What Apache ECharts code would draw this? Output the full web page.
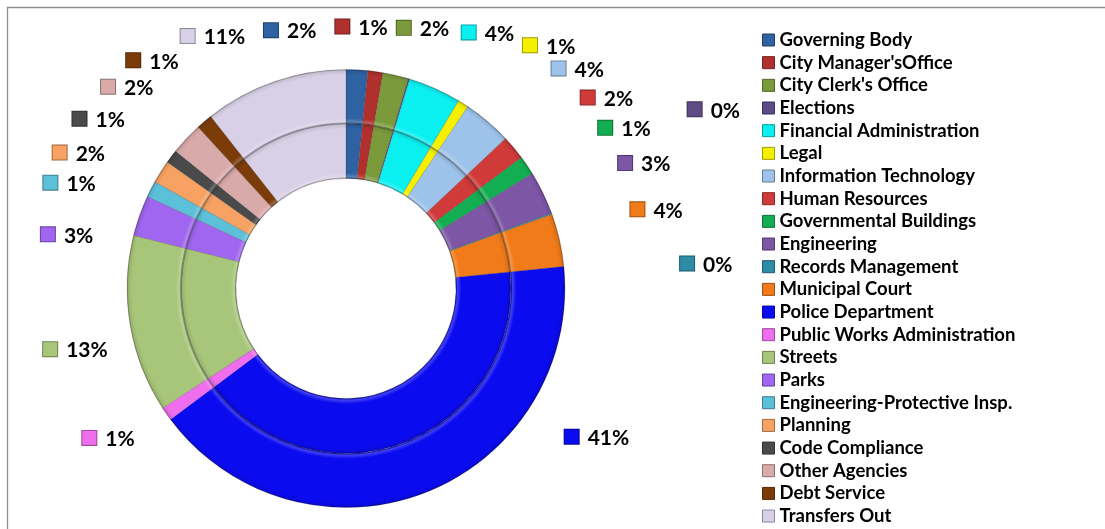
<!DOCTYPE html>
<html>
<head>
<meta charset="utf-8">
<script src="https://cdn.jsdelivr.net/npm/echarts@6/dist/echarts.min.js"></script>
<style>
  html, body { margin: 0; padding: 0; background: #fff; }
  #chart { width: 1105px; height: 529px; }
</style>
</head>
<body>
<div id="chart"></div>
<script>
// General fund expenditures by department (share of total, %)
const departments = [
  'Governing Body', "City Manager'sOffice", "City Clerk's Office", 'Elections',
  'Financial Administration', 'Legal', 'Information Technology', 'Human Resources',
  'Governmental Buildings', 'Engineering', 'Records Management', 'Municipal Court',
  'Police Department', 'Public Works Administration', 'Streets', 'Parks',
  'Engineering-Protective Insp.', 'Planning', 'Code Compliance', 'Other Agencies',
  'Debt Service', 'Transfers Out'
];
const shares = [
  1.6, 1.1, 1.9, 0.1,
  3.9, 0.8, 3.6, 1.8,
  1.4, 3.2, 0.1, 3.9,
  41.4, 1.0, 13.1, 3.0,
  1.2, 1.7, 1.0, 2.4,
  1.2, 10.6
];
const palette = [
  '#2E62A3', '#B0302E', '#7B9A3C', '#5E4A85',
  '#0AF0F0', '#F5F000', '#9DC3EA', '#D03A38',
  '#14AE52', '#7D56A6', '#2E8CA6', '#F07B18',
  '#0B0BEF', '#EE6EEE', '#A8C67A', '#A066F0',
  '#5CC0D8', '#F7A262', '#4A4A4A', '#D9AAAA',
  '#7C3C0A', '#D8D0E6'
];

// Ring geometry
const cx = 346, cy = 288.5;
const rHole = 110, rMid = 165, rOuter = 219;

// Where each percentage tag sits: [angle clockwise from 12 o'clock, distance from centre]
const tagSpots = [
  [343.8, 269], [359.2, 262], [12.5, 267], [62.8, 392],
  [25.6, 284], [37.1, 305], [44.0, 306], [51.7, 308],
  [58.2, 305], [65.8, 306], [85.8, 342], [74.8, 302],
  [123.3, 270], [239.8, 297], [258.4, 302], [280.3, 303],
  [289.7, 314], [295.4, 317], [302.5, 316], [310.3, 312],
  [317.0, 312], [327.9, 298]
];

function mix(hex, target, t) {
  const n = parseInt(hex.slice(1), 16);
  const c = [(n >> 16) & 255, (n >> 8) & 255, n & 255];
  const out = c.map(v => Math.round(v + (target - v) * t));
  return 'rgb(' + out.join(',') + ')';
}

// Concentric shading that gives each ring a rounded, bevelled look
function ringFill(base, r0, r1) {
  const a = r0 / rOuter, b = r1 / rOuter, w = b - a;
  return {
    type: 'radial', x: cx, y: cy, r: rOuter, global: true,
    colorStops: [
      { offset: a, color: mix(base, 0, 0.35) },
      { offset: a + w * 0.03, color: mix(base, 255, 0.22) },
      { offset: a + w * 0.10, color: base },
      { offset: a + w * 0.90, color: base },
      { offset: a + w * 0.97, color: mix(base, 0, 0.08) },
      { offset: b, color: mix(base, 0, 0.35) }
    ]
  };
}

function ringData(r0, r1, withTags) {
  return departments.map((name, i) => {
    const item = {
      name: name,
      value: shares[i],
      itemStyle: { color: ringFill(palette[i], r0, r1) }
    };
    if (withTags) {
      item.label = {
        rich: {
          m: {
            width: 14, height: 14,
            backgroundColor: palette[i],
            borderColor: mix(palette[i], 0, 0.35),
            borderWidth: 1
          }
        }
      };
    }
    return item;
  });
}

const chart = echarts.init(document.getElementById('chart'));

chart.setOption({
  backgroundColor: '#ffffff',
  animation: false,
  graphic: [{
    type: 'rect',
    shape: { x: 7.5, y: 7.5, width: 1200, height: 700 },
    style: { fill: 'none', stroke: '#8f8f8f', lineWidth: 1.3 },
    silent: true
  }],
  legend: {
    orient: 'vertical',
    left: 762,
    top: 30.5,
    height: 520,
    padding: 0,
    itemWidth: 12,
    itemHeight: 12,
    itemGap: 3.67,
    icon: 'rect',
    data: departments.map((name, i) => ({
      name: name,
      itemStyle: { color: palette[i], borderColor: mix(palette[i], 0, 0.35), borderWidth: 1 }
    })),
    textStyle: {
      fontFamily: 'Lato',
      fontWeight: 'bold',
      fontSize: 18.5,
      lineHeight: 19,
      color: '#000'
    }
  },
  series: [
    {
      name: 'inner',
      type: 'pie',
      center: [cx, cy],
      radius: [rHole, rMid],
      startAngle: 90,
      clockwise: true,
      silent: true,
      label: { show: false },
      labelLine: { show: false },
      itemStyle: { borderColor: 'rgba(40,40,40,0.3)', borderWidth: 0.6 },
      data: ringData(rHole, rMid, false)
    },
    {
      name: 'outer',
      type: 'pie',
      center: [cx, cy],
      radius: [rMid, rOuter],
      startAngle: 90,
      clockwise: true,
      silent: true,
      avoidLabelOverlap: false,
      itemStyle: { borderColor: 'rgba(40,40,40,0.3)', borderWidth: 0.6 },
      label: {
        show: true,
        position: 'outside',
        formatter: p => '{m|}{v|' + Math.round(p.percent) + '%}',
        rich: {
          v: {
            fontFamily: 'Lato',
            fontWeight: 'bold',
            fontSize: 21,
            color: '#000',
            padding: [3, 0, 0, 9]
          }
        }
      },
      labelLine: { show: false },
      labelLayout: function (params) {
        const spot = tagSpots[params.dataIndex];
        const rad = spot[0] * Math.PI / 180;
        return {
          x: cx + spot[1] * Math.sin(rad) - 7,
          y: cy - spot[1] * Math.cos(rad),
          align: 'left',
          verticalAlign: 'middle',
          hideOverlap: false,
          moveOverlap: null
        };
      },
      data: ringData(rMid, rOuter, true)
    }
  ]
});
</script>
</body>
</html>
